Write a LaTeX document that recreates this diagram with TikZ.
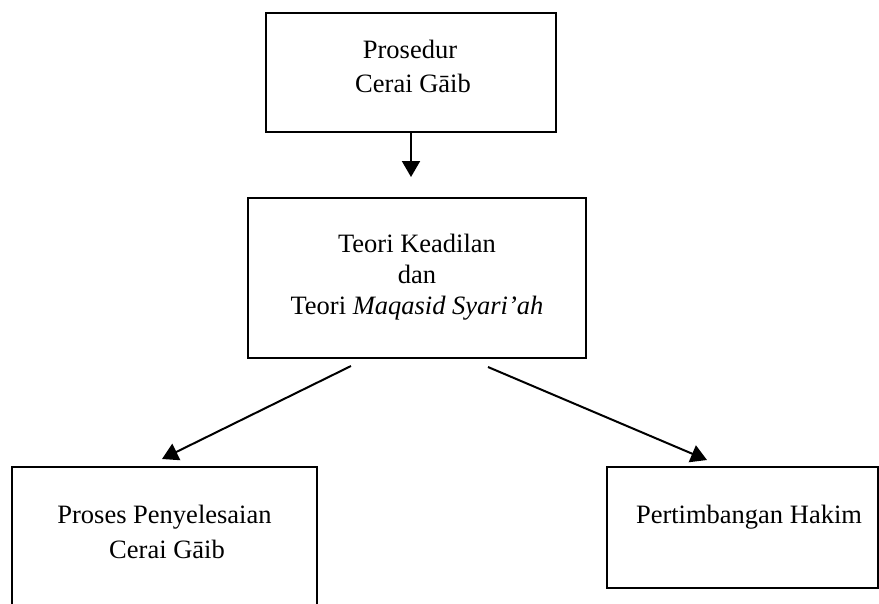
\documentclass[tikz,border=0pt]{standalone}
\usepackage{fontspec}
\setmainfont{Liberation Serif}
\usetikzlibrary{arrows.meta}
\tikzset{
  boxnode/.style={draw=black, line width=1.3pt, inner sep=0pt, fill=none},
  linetext/.style={anchor=base, inner sep=0pt, font=\fontsize{26.5}{32}\selectfont},
  arrowline/.style={line width=2pt, -{Triangle[length=16pt,width=18pt]}}
}
\begin{document}
\begin{tikzpicture}[x=1pt,y=-1pt]
\useasboundingbox (0,0) rectangle (879,603);
\clip (0,0) rectangle (879,603);
\fill[white] (0,0) rectangle (879,603);
% boxes
\node[boxnode, minimum width=290pt, minimum height=119pt] (top) at (411,72.5) {};
\node[boxnode, minimum width=338pt, minimum height=160pt] (mid) at (417,278) {};
\node[boxnode, minimum width=305pt, minimum height=173pt] (bl) at (164.5,553.5) {};
\node[boxnode, minimum width=271pt, minimum height=121pt] (br) at (742.5,527.5) {};
% texts
\node[linetext] (t1a) at (410,58) {Prosedur};
\node[linetext] (t1b) at (413,92) {Cerai Gāib};
\node[linetext] (t2a) at (417,252) {Teori Keadilan};
\node[linetext] (t2b) at (417,283) {dan};
\node[linetext] (t2c) at (417,314) {Teori \textit{Maqasid Syari’ah}};
\node[linetext] (t3a) at (164.5,523) {Proses Penyelesaian};
\node[linetext] (t3b) at (167,558) {Cerai Gāib};
\node[linetext] (t4a) at (749,523) {Pertimbangan Hakim};
% connectors
\coordinate (a1e) at (411,177);
\coordinate (l0) at (351,366);
\coordinate (l1) at (162,459);
\coordinate (r0) at (488,367);
\coordinate (r1) at (707,460);
\draw[arrowline] (top.south) -- (a1e);
\draw[arrowline] (l0) -- (l1);
\draw[arrowline] (r0) -- (r1);
\end{tikzpicture}
\end{document}
